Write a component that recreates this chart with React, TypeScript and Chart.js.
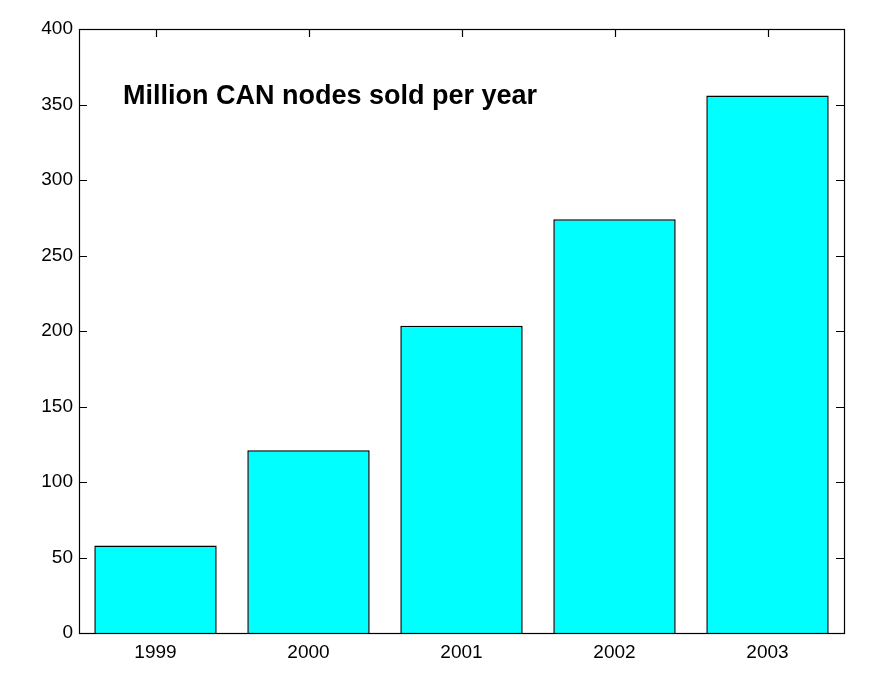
import React, { useEffect, useRef } from "react";
import { Chart, registerables } from "chart.js";

Chart.register(...registerables);

const categories = ["1999", "2000", "2001", "2002", "2003"];
const nodesSold = [58, 121, 203.5, 274, 356];
const yTicks = [0, 50, 100, 150, 200, 250, 300, 350, 400];
const titleText = "Million CAN nodes sold per year";

const framePlugin = {
  id: "matlabFrame",
  beforeDatasetsDraw(chart: any) {
    const { ctx, chartArea, scales } = chart;
    const { left, right, top, bottom } = chartArea;
    ctx.save();
    ctx.strokeStyle = "#000";
    ctx.lineWidth = 1.2;
    ctx.beginPath();
    const tl = 8;
    yTicks.forEach((v) => {
      const y = Math.round(scales.y.getPixelForValue(v)) + 0.5;
      ctx.moveTo(left, y);
      ctx.lineTo(left + tl, y);
      ctx.moveTo(right, y);
      ctx.lineTo(right - tl, y);
    });
    categories.forEach((_, i) => {
      const x = Math.round(scales.x.getPixelForValue(i)) + 0.5;
      ctx.moveTo(x, top);
      ctx.lineTo(x, top + tl);
      ctx.moveTo(x, bottom);
      ctx.lineTo(x, bottom - tl);
    });
    ctx.stroke();
    ctx.restore();
  },
  afterDatasetsDraw(chart: any) {
    const { ctx, chartArea } = chart;
    const { left, right, top, bottom } = chartArea;
    ctx.save();
    ctx.strokeStyle = "#000";
    ctx.lineWidth = 1.2;
    ctx.strokeRect(Math.round(left) + 0.5, Math.round(top) + 0.5, Math.round(right - left), Math.round(bottom - top));
    ctx.fillStyle = "#000";
    ctx.font = "bold 27px 'Liberation Sans', Arial, sans-serif";
    ctx.textBaseline = "alphabetic";
    ctx.textAlign = "left";
    ctx.fillText(titleText, left + 44, top + 75);
    ctx.restore();
  },
};

export default function App() {
  const ref = useRef<HTMLCanvasElement | null>(null);
  useEffect(() => {
    if (!ref.current) return;
    const chart = new Chart(ref.current, {
      type: "bar",
      data: {
        labels: categories,
        datasets: [
          {
            data: nodesSold,
            backgroundColor: "#00FFFF",
            borderColor: "#000000",
            borderWidth: 1.5,
            barPercentage: 0.8,
            categoryPercentage: 1,
          },
        ],
      },
      options: {
        animation: false,
        responsive: false,
        maintainAspectRatio: false,
        layout: { padding: { left: 0, top: 29, right: 44, bottom: 0 } },
        plugins: {
          legend: { display: false },
          tooltip: { enabled: false },
          title: { display: false },
        },
        scales: {
          x: {
            grid: { display: false, drawTicks: false },
            border: { display: false },
            ticks: {
              color: "#000",
              padding: 8,
              font: { family: "'Liberation Sans', Arial, sans-serif", size: 19 },
            },
            afterFit: (s: any) => {
              s.height = 48;
            },
          },
          y: {
            min: 0,
            max: 400,
            grid: { display: false, drawTicks: false },
            border: { display: false },
            afterBuildTicks: (s: any) => {
              s.ticks = yTicks.map((v) => ({ value: v }));
            },
            ticks: {
              color: "#000",
              padding: 6,
              font: { family: "'Liberation Sans', Arial, sans-serif", size: 19 },
            },
            afterFit: (s: any) => {
              s.width = 79;
            },
          },
        },
      },
      plugins: [framePlugin],
    });
    return () => chart.destroy();
  }, []);
  return (
    <div style={{ position: "fixed", left: 0, top: 0, width: 888, height: 681, background: "#fff" }}>
      <canvas ref={ref} width={888} height={681} style={{ width: 888, height: 681 }} />
    </div>
  );
}
